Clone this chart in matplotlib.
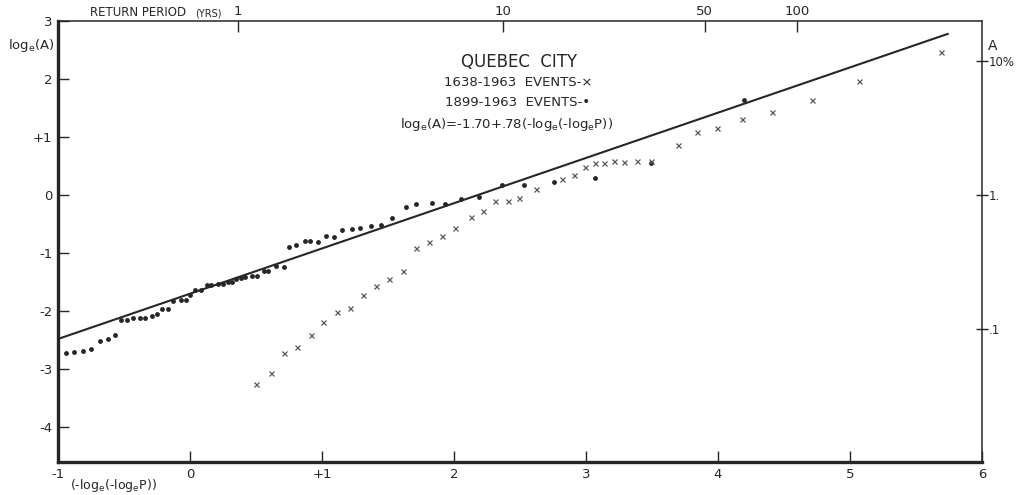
import matplotlib
matplotlib.use("Agg")
import matplotlib.pyplot as plt
import numpy as np

plt.rcParams['font.family'] = ['DejaVu Sans']
plt.rcParams['mathtext.default'] = 'regular'

# ---- data ----
# 1899-1963 events (dots): reduced variate, log_e(A)
x_dots = [-0.94, -0.88, -0.81, -0.75, -0.68, -0.62, -0.57, -0.52, -0.48, -0.43,
          -0.38, -0.34, -0.29, -0.25, -0.21, -0.17, -0.13, -0.07, -0.03, 0.00,
          0.04, 0.08, 0.13, 0.16, 0.21, 0.25, 0.29, 0.32, 0.35, 0.39,
          0.42, 0.47, 0.51, 0.56, 0.59, 0.65, 0.71, 0.75, 0.80, 0.87,
          0.91, 0.97, 1.03, 1.09, 1.15, 1.23, 1.29, 1.37, 1.45, 1.53,
          1.64, 1.71, 1.83, 1.93, 2.05, 2.19, 2.36, 2.53, 2.76, 3.07,
          3.49, 4.20]
y_dots = [-2.73, -2.70, -2.69, -2.65, -2.52, -2.48, -2.41, -2.16, -2.16, -2.12,
          -2.11, -2.11, -2.09, -2.05, -1.96, -1.96, -1.82, -1.81, -1.81, -1.72,
          -1.63, -1.64, -1.55, -1.55, -1.53, -1.53, -1.50, -1.49, -1.45, -1.43,
          -1.41, -1.39, -1.39, -1.31, -1.31, -1.23, -1.24, -0.90, -0.86, -0.79,
          -0.79, -0.80, -0.71, -0.72, -0.61, -0.58, -0.56, -0.53, -0.52, -0.39,
          -0.21, -0.15, -0.14, -0.15, -0.06, -0.03, 0.17, 0.18, 0.22, 0.30,
          0.55, 1.64]

# 1638-1963 events (crosses)
x_cross = [0.50, 0.61, 0.71, 0.81, 0.92, 1.01, 1.11, 1.21, 1.31, 1.41,
           1.51, 1.61, 1.71, 1.81, 1.91, 2.01, 2.13, 2.22, 2.31, 2.41,
           2.49, 2.62, 2.82, 2.91, 2.99, 3.07, 3.14, 3.21, 3.29, 3.39,
           3.49, 3.70, 3.84, 3.99, 4.18, 4.41, 4.71, 5.07, 5.69]
y_cross = [-3.25, -3.07, -2.72, -2.62, -2.41, -2.18, -2.02, -1.94, -1.73, -1.57,
           -1.44, -1.30, -0.91, -0.80, -0.70, -0.56, -0.37, -0.27, -0.11, -0.10,
           -0.05, 0.11, 0.28, 0.35, 0.48, 0.56, 0.56, 0.58, 0.57, 0.58,
           0.58, 0.87, 1.08, 1.16, 1.31, 1.44, 1.64, 1.97, 2.47]

# fitted line log_e(A) = -1.70 + .78 x
fit_intercept = -1.70
fit_slope = 0.78
fit_x_range = [-1.0, 5.74]

x_ticks = [-1, 0, 1, 2, 3, 4, 5, 6]
x_ticklabels = ["-1", "0", "+1", "2", "3", "4", "5", "6"]
y_ticks = [-4, -3, -2, -1, 0, 1, 2, 3]
y_ticklabels = ["-4", "-3", "-2", "-1", "0", "+1", "2", "3"]

top_tick_pos = [0.364, 2.37, 3.90, 4.60]
top_ticklabels = ["1", "10", "50", "100"]

right_tick_values = [10.0, 1.0, 0.1]
right_ticklabels = ["10%", "1.", ".1"]

# ---- figure ----
W, H = 1016, 495
fig = plt.figure(figsize=(W / 100, H / 100), dpi=100)
fig.patch.set_facecolor('white')
ax = fig.add_axes([58 / W, 1 - 462 / H, (982 - 58) / W, (462 - 21) / H])

ink = '#262626'
ax.set_xlim(-1, 6)
ax.set_ylim(-4.6, 3.0)

fx = np.array(fit_x_range)
ax.plot(fx, fit_intercept + fit_slope * fx, color=ink, lw=1.5, zorder=2)
ax.plot(x_dots, y_dots, linestyle='none', marker='o', ms=3.5, color=ink,
        markeredgewidth=0, zorder=3)
ax.plot(x_cross, y_cross, linestyle='none', marker='x', ms=3.6, color='#555555',
        markeredgewidth=0.9, zorder=3)

for side, lw in [('left', 2.4), ('bottom', 2.4), ('top', 1.1), ('right', 1.1)]:
    ax.spines[side].set_linewidth(lw)
    ax.spines[side].set_color(ink)

ax.set_xticks(x_ticks)
ax.set_xticklabels(x_ticklabels)
ax.set_yticks(y_ticks)
ax.set_yticklabels(y_ticklabels)
ax.tick_params(axis='x', direction='in', length=8, width=1.0, colors=ink,
               labelsize=9.5, pad=4)
ax.tick_params(axis='y', direction='in', length=8, width=1.0, colors=ink,
               labelsize=9.5, pad=4)

# top axis: return period
axt = ax.secondary_xaxis('top')
axt.set_xticks(top_tick_pos)
axt.set_xticklabels(top_ticklabels)
axt.tick_params(direction='in', length=8, width=1.0, colors=ink, labelsize=9.5, pad=2)
axt.spines['top'].set_visible(False)

# right axis: A
axr = ax.secondary_yaxis('right')
axr.set_yticks(np.log(right_tick_values))
axr.set_yticklabels(right_ticklabels)
axr.tick_params(direction='inout', length=9, width=1.0, colors=ink, labelsize=8.5, pad=0)
axr.spines['right'].set_visible(False)

def fxy(px, py):
    return px / W, 1 - py / H

fig.text(*fxy(55, 45), 'log$_e$(A)', ha='right', va='center', fontsize=9.5, color=ink)
fig.text(*fxy(988, 46), 'A', ha='left', va='center', fontsize=10, color=ink)
fig.text(*fxy(90, 13), 'RETURN PERIOD', ha='left', va='center', fontsize=8.5, color=ink)
fig.text(*fxy(195, 13.5), '(YRS)', ha='left', va='center', fontsize=7, color=ink)
fig.text(*fxy(70, 486), '(-log$_e$(-log$_e$P))', ha='left', va='center', fontsize=9, color=ink)

fig.text(*fxy(519, 62), 'QUEBEC  CITY', ha='center', va='center', fontsize=12, color=ink)
fig.text(*fxy(518, 83), '1638-1963  EVENTS-×', ha='center', va='center', fontsize=9.5, color=ink)
fig.text(*fxy(518, 103), '1899-1963  EVENTS-•', ha='center', va='center', fontsize=9.5, color=ink)
fig.text(*fxy(507, 124), 'log$_e$(A)=-1.70+.78(-log$_e$(-log$_e$P))', ha='center',
         va='center', fontsize=9.5, color=ink)

fig.savefig('out.png', dpi=100, facecolor='white')
